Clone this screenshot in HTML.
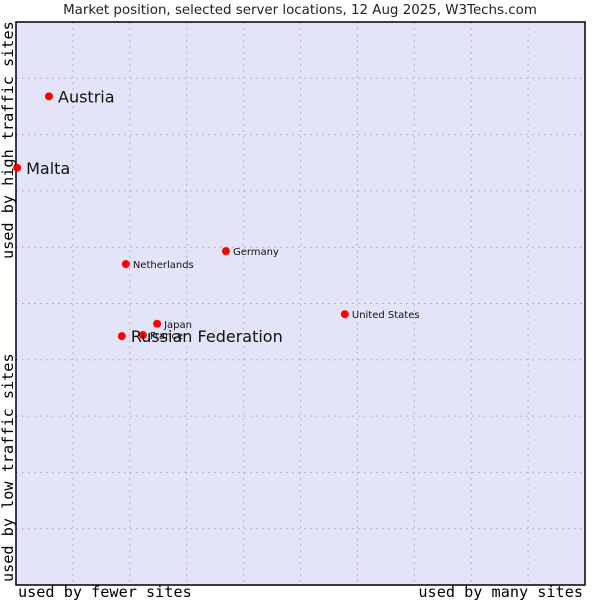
<!DOCTYPE html>
<html><head><meta charset="utf-8"><style>
body{margin:0;background:#fff;}
svg{display:block;font-family:"DejaVu Sans","Liberation Sans",sans-serif;}
</style></head><body>
<svg id="chart" width="600" height="600">
<text x="300" y="14" text-anchor="middle" font-size="13.4" fill="#222">Market position, selected server locations, 12 Aug 2025, W3Techs.com</text>
<rect x="16" y="22" width="569" height="563" fill="#e3e4f8"/>
<g id="grid"></g>
<rect x="16" y="22" width="569" height="563" fill="none" stroke="#000" stroke-width="1.5"/>
<g id="points"></g>
<text x="18" y="597" font-size="15.2" font-family="DejaVu Sans Mono,Liberation Mono,monospace" fill="#000">used by fewer sites</text>
<text x="583" y="597" text-anchor="end" font-size="15.2" font-family="DejaVu Sans Mono,Liberation Mono,monospace" fill="#000">used by many sites</text>
<text transform="translate(13,582) rotate(-90)" font-size="15.2" font-family="DejaVu Sans Mono,Liberation Mono,monospace" fill="#000">used by low traffic sites</text>
<text transform="translate(13,259) rotate(-90)" font-size="15.2" font-family="DejaVu Sans Mono,Liberation Mono,monospace" fill="#000">used by high traffic sites</text>
</svg>
<script>
const names=["Austria","Malta","Germany","Netherlands","United States","Japan","France","Russian Federation"];
const xValues=[5.8,0.2,36.9,19.3,57.8,24.8,22.3,18.6];
const yValues=[86.8,74.1,59.3,57.0,48.1,46.4,44.4,44.2];
const labelSizes=[16,16,10,10,10,10,10,16];
const NS="http://www.w3.org/2000/svg";
const L=16,T=22,W=569,H=563;
const sx=v=>L+v/100*W, sy=v=>T+H-v/100*H;
const grid=document.getElementById('grid');
for(let i=1;i<10;i++){
  const a=document.createElementNS(NS,'line');
  a.setAttribute('x1',sx(i*10));a.setAttribute('x2',sx(i*10));a.setAttribute('y1',T);a.setAttribute('y2',T+H);
  a.setAttribute('stroke','#b8b8c0');a.setAttribute('stroke-dasharray','2,4');
  
  
  grid.appendChild(a);
  const b=document.createElementNS(NS,'line');
  b.setAttribute('y1',sy(i*10));b.setAttribute('y2',sy(i*10));b.setAttribute('x1',L);b.setAttribute('x2',L+W);
  b.setAttribute('stroke','#b8b8c0');b.setAttribute('stroke-dasharray','2,4');
  
  
  grid.appendChild(b);
}
const pts=document.getElementById('points');
names.forEach((n,i)=>{
  const x=sx(xValues[i]),y=sy(yValues[i]);
  const c=document.createElementNS(NS,'circle');
  c.setAttribute('cx',x);c.setAttribute('cy',y);c.setAttribute('r',4);c.setAttribute('fill','#f00');
  
  
  pts.appendChild(c);
  const t=document.createElementNS(NS,'text');
  const big=labelSizes[i]>12;
  t.setAttribute('x',x+(big?9:7));t.setAttribute('y',y+(big?6:4));
  t.setAttribute('font-size',labelSizes[i]);t.setAttribute('fill','#111');
  t.textContent=n;
  
  
  pts.appendChild(t);
});
</script>
</body></html>
